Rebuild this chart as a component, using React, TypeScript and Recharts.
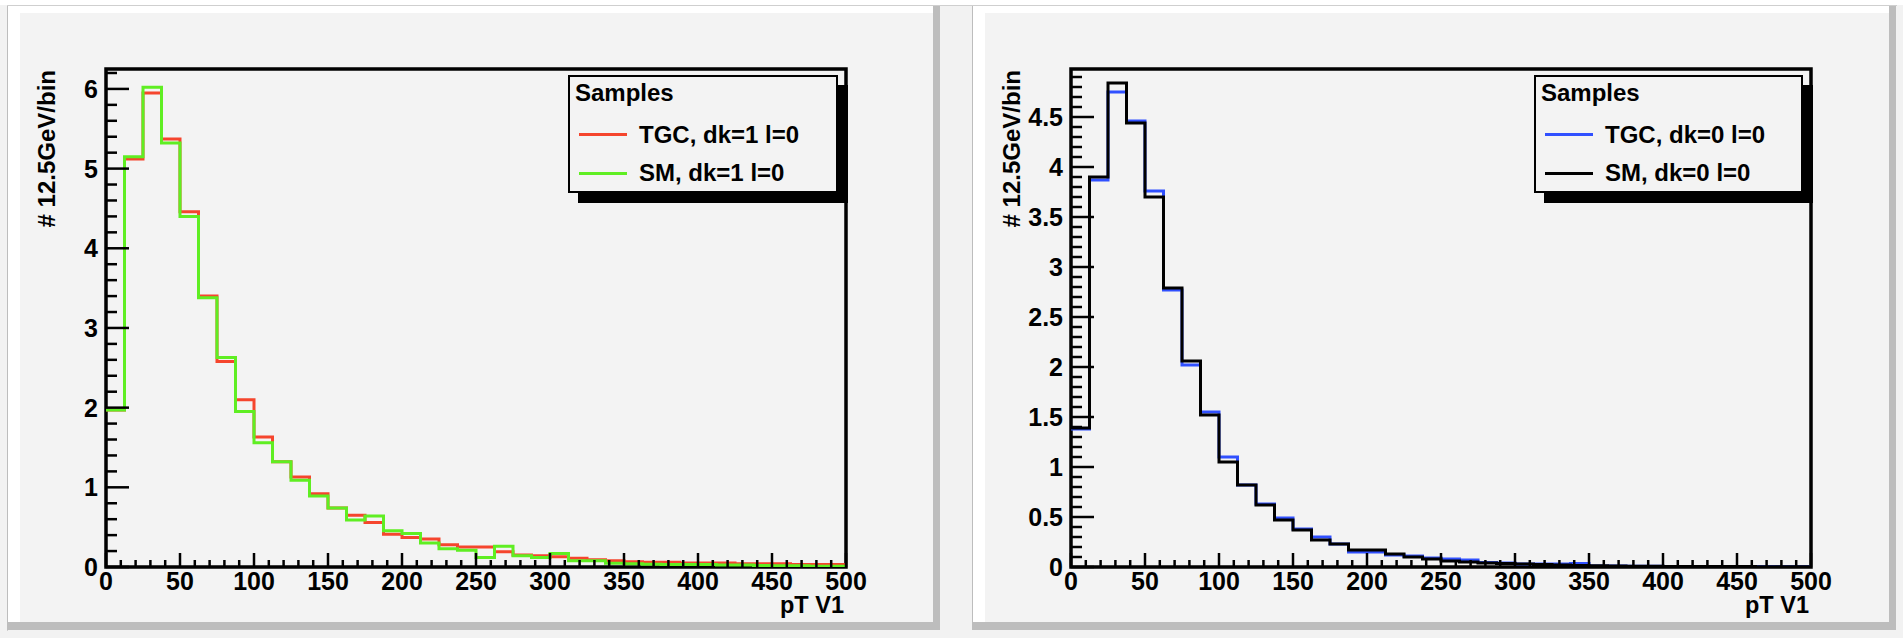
import { LineChart, Line, XAxis, YAxis, ReferenceArea } from "recharts";

const FONT = "'Liberation Sans', Arial, Helvetica, sans-serif";
const CANVAS = "#f3f3f3";
const RED = "#f5452d";
const GREEN = "#5fee22";
const BLUE = "#3050ff";
const BLACK = "#000000";

// lower bin edges (12.5 GeV bins) plus the upper end of the last bin
const BIN_EDGES = [
  0, 12.5, 25, 37.5, 50, 62.5, 75, 87.5, 100, 112.5, 125, 137.5, 150, 162.5, 175, 187.5, 200, 212.5, 225, 237.5,
  250, 262.5, 275, 287.5, 300, 312.5, 325, 337.5, 350, 362.5, 375, 387.5, 400, 412.5, 425, 437.5, 450, 462.5, 475, 487.5,
  500,
];

const TGC_DK1 = [
  1.97, 5.12, 5.95, 5.37, 4.46, 3.4, 2.58, 2.1, 1.63, 1.32, 1.13, 0.92, 0.74, 0.65, 0.56, 0.41, 0.37, 0.35, 0.28, 0.25,
  0.25, 0.19, 0.15, 0.14, 0.13, 0.11, 0.09, 0.08, 0.067, 0.06, 0.06, 0.05, 0.05, 0.05, 0.04, 0.04, 0.04, 0.03, 0.03, 0.03,
];
const SM_DK1 = [
  1.97, 5.15, 6.02, 5.32, 4.4, 3.38, 2.63, 1.95, 1.56, 1.32, 1.09, 0.89, 0.74, 0.59, 0.64, 0.455, 0.42, 0.3, 0.23, 0.21,
  0.12, 0.26, 0.14, 0.12, 0.17, 0.08, 0.08, 0.046, 0.04, 0.035, 0.03, 0.03, 0.03, 0.025, 0.025, 0.02, 0.015, 0.015, 0.01, 0.01,
];
const TGC_DK0 = [
  1.38, 3.87, 4.75, 4.46, 3.76, 2.77, 2.02, 1.55, 1.1, 0.82, 0.63, 0.49, 0.38, 0.3, 0.23, 0.15, 0.15, 0.12, 0.11, 0.09,
  0.08, 0.07, 0.045, 0.04, 0.03, 0.03, 0.03, 0.035, 0.01, 0.01, 0.008, 0.008, 0.006, 0.006, 0.005, 0.005, 0.004, 0.004, 0.003, 0.003,
];
const SM_DK0 = [
  1.39, 3.9, 4.84, 4.44, 3.7, 2.79, 2.06, 1.52, 1.05, 0.82, 0.62, 0.47, 0.37, 0.27, 0.23, 0.17, 0.17, 0.13, 0.1, 0.08,
  0.06, 0.05, 0.04, 0.035, 0.03, 0.025, 0.02, 0.015, 0.012, 0.01, 0.008, 0.007, 0.006, 0.005, 0.005, 0.004, 0.004, 0.003, 0.003, 0.002,
];

const X_MAJOR = [0, 50, 100, 150, 200, 250, 300, 350, 400, 450, 500];
const Y_MAJOR_LEFT = [0, 1, 2, 3, 4, 5, 6];
const Y_MAJOR_RIGHT = [0, 0.5, 1, 1.5, 2, 2.5, 3, 3.5, 4, 4.5];

const r3 = (v: number) => Math.round(v * 1000) / 1000;

// ROOT style: 5 minor divisions per major step, continued up to the axis end
function withMinor(majors: number[], max: number) {
  const step = majors[1] - majors[0];
  const out: number[] = [];
  for (let v = 0; v <= max + 1e-9; v += step / 5) out.push(r3(v));
  return out;
}

const isMajor = (majors: number[], v: number) => majors.some((m) => Math.abs(m - v) < 1e-6);

function steps(a: number[], b: number[]) {
  return BIN_EDGES.map((x, i) => ({ x, a: a[Math.min(i, a.length - 1)], b: b[Math.min(i, b.length - 1)] }));
}

const textStyle = { fontFamily: FONT, fontWeight: 700 as const };
const TICK_FONT = 25;

function XTick(props: any) {
  const { x, y, payload } = props;
  const major = isMajor(X_MAJOR, payload.value);
  return (
    <g>
      <line x1={x} x2={x} y1={y} y2={y - (major ? 14 : 7)} stroke="#000" strokeWidth={2.5} />
      {major && (
        <text x={x} y={y + 23} textAnchor="middle" fontSize={TICK_FONT} fill="#000" style={textStyle}>
          {payload.value}
        </text>
      )}
    </g>
  );
}

function makeYTick(majors: number[]) {
  return (props: any) => {
    const { x, y, payload } = props;
    const major = isMajor(majors, payload.value);
    return (
      <g>
        <line x1={x} x2={x + (major ? 23 : 11)} y1={y} y2={y} stroke="#000" strokeWidth={2.5} />
        {major && (
          <text x={x - 8} y={y} dy={9} textAnchor="end" fontSize={TICK_FONT} fill="#000" style={textStyle}>
            {String(payload.value)}
          </text>
        )}
      </g>
    );
  };
}

type PanelProps = {
  left: number;
  data: { x: number; a: number; b: number }[];
  yMax: number;
  yMajors: number[];
  colorA: string;
  colorB: string;
  nameA: string;
  nameB: string;
  marginLeft: number;
  marginRight: number;
  yTitleX: number;
  legendLeft: number;
  legendWidth: number;
};

function Histo(p: PanelProps) {
  const yTicks = withMinor(p.yMajors, p.yMax);
  const xTicks = withMinor(X_MAJOR, 500);
  const plotRight = 940 - p.marginRight;
  return (
    <div style={{ position: "absolute", left: p.left, top: 0, width: 940, height: 638 }}>
      <LineChart
        width={940}
        height={638}
        data={p.data}
        margin={{ top: 69, right: p.marginRight, left: p.marginLeft, bottom: 21 }}
      >
        <XAxis
          dataKey="x"
          type="number"
          domain={[0, 500]}
          ticks={xTicks}
          interval={0}
          height={50}
          allowDataOverflow
          axisLine={false}
          tickLine={false}
          tickSize={0}
          tickMargin={0}
          tick={(t: any) => <XTick {...t} />}
          label={{
            content: () => (
              <text x={plotRight - 2} y={613} textAnchor="end" fontSize={23.5} fill="#000" style={textStyle}>
                pT V1
              </text>
            ),
          }}
        />
        <YAxis
          type="number"
          domain={[0, p.yMax]}
          ticks={yTicks}
          interval={0}
          width={60}
          allowDataOverflow
          axisLine={false}
          tickLine={false}
          tickSize={0}
          tickMargin={0}
          tick={makeYTick(p.yMajors)}
          label={{
            content: () => (
              <text
                x={p.yTitleX}
                y={70}
                transform={`rotate(-90 ${p.yTitleX} 70)`}
                textAnchor="end"
                fontSize={24}
                fill="#000"
                style={textStyle}
              >
                # 12.5GeV/bin
              </text>
            ),
          }}
        />
        <Line type="stepAfter" dataKey="a" stroke={p.colorA} strokeWidth={3} dot={false} isAnimationActive={false} />
        <Line type="stepAfter" dataKey="b" stroke={p.colorB} strokeWidth={3} dot={false} isAnimationActive={false} />
        <ReferenceArea x1={0} x2={500} y1={0} y2={p.yMax} fill="none" stroke="#000" strokeWidth={3.5} ifOverflow="visible" />
      </LineChart>
      <div
        style={{
          position: "absolute",
          left: p.legendLeft,
          top: 75,
          width: p.legendWidth,
          height: 118,
          boxSizing: "border-box",
          border: "2px solid #000",
          background: CANVAS,
          boxShadow: "10px 10px 0 #000",
          fontFamily: FONT,
          fontWeight: 700,
          fontSize: 24,
          lineHeight: "24px",
          color: "#000",
          whiteSpace: "nowrap",
        }}
      >
        <span style={{ position: "absolute", left: 5, top: 4 }}>Samples</span>
        <div style={{ position: "absolute", left: 9, top: 56, width: 48, height: 3, background: p.colorA }} />
        <span style={{ position: "absolute", left: 69, top: 46 }}>{p.nameA}</span>
        <div style={{ position: "absolute", left: 9, top: 95, width: 48, height: 3, background: p.colorB }} />
        <span style={{ position: "absolute", left: 69, top: 84 }}>{p.nameB}</span>
      </div>
    </div>
  );
}

function Pad({ left, width }: { left: number; width: number }) {
  return (
    <>
      <div style={{ position: "absolute", left, top: 6, width, height: 624, background: "#bdbdbd" }} />
      <div style={{ position: "absolute", left: left + 1, top: 6, width: width - 8, height: 616, background: "#ffffff" }} />
      <div style={{ position: "absolute", left: left + 13, top: 13, width: width - 20, height: 609, background: CANVAS }} />
    </>
  );
}

export default function App() {
  return (
    <div style={{ position: "absolute", left: 0, top: 0, width: 1903, height: 638, background: "#f2f2f2", overflow: "hidden" }}>
      <div style={{ position: "absolute", left: 0, top: 0, width: 1903, height: 5, background: "#ffffff" }} />
      <div style={{ position: "absolute", left: 7, top: 5, width: 1890, height: 1, background: "#cfcfcf" }} />
      <div style={{ position: "absolute", left: 7, top: 5, width: 1, height: 626, background: "#cfcfcf" }} />
      <Pad left={7} width={933} />
      <Pad left={972} width={924} />
      <Histo
        left={0}
        data={steps(TGC_DK1, SM_DK1)}
        yMax={6.25}
        yMajors={Y_MAJOR_LEFT}
        colorA={RED}
        colorB={GREEN}
        nameA="TGC, dk=1 l=0"
        nameB="SM, dk=1 l=0"
        marginLeft={46}
        marginRight={94}
        yTitleX={55}
        legendLeft={568}
        legendWidth={270}
      />
      <Histo
        left={960}
        data={steps(TGC_DK0, SM_DK0)}
        yMax={4.98}
        yMajors={Y_MAJOR_RIGHT}
        colorA={BLUE}
        colorB={BLACK}
        nameA="TGC, dk=0 l=0"
        nameB="SM, dk=0 l=0"
        marginLeft={51}
        marginRight={89}
        yTitleX={60}
        legendLeft={574}
        legendWidth={269}
      />
    </div>
  );
}
